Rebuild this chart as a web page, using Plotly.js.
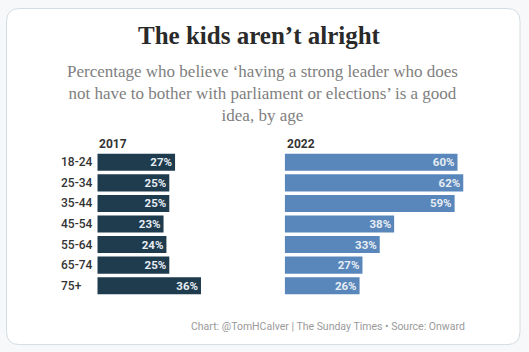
<!DOCTYPE html>
<html><head><meta charset="utf-8">
<script src="https://cdn.plot.ly/plotly-3.0.1.min.js"></script>
<style>html,body{margin:0;padding:0;background:#f7f8f9;}#chart{width:529px;height:352px;}</style>
</head><body><div id="chart"></div>
<script>
const categories = ['18-24','25-34','35-44','45-54','55-64','65-74','75+'];
const values2017 = [27,25,25,23,24,25,36];
const values2022 = [60,62,59,38,33,27,26];
const panelTitles = ['2017','2022'];
const titleText = 'The kids aren\u2019t alright';
const subtitleText = 'Percentage who believe \u2018having a strong leader who does<br>not have to bother with parliament or elections\u2019 is a good<br>idea, by age';
const footerText = 'Chart: @TomHCalver | The Sunday Times \u2022 Source: Onward';

const W = 529, H = 352, T = 152.3, B = 56.4;
const px = x => x / W;
const py = y => (H - B - y) / (H - T - B);
const scale = 2.88;
const leftStart = 97.3, rightStart = 284.7, leftMax = 60, rightMax = 65;

const pctText = arr => arr.map(v => v + '%');
const barFont = {family: 'Roboto, sans-serif', size: 11.5, color: '#e6edf3', weight: 700};

const traces = [
  {type: 'bar', orientation: 'h', y: categories, x: values2017, xaxis: 'x', yaxis: 'y',
   marker: {color: '#1f3b4e'}, text: pctText(values2017), textposition: 'inside', constraintext: 'none',
   insidetextanchor: 'end', textfont: barFont, hoverinfo: 'skip', cliponaxis: false},
  {type: 'bar', orientation: 'h', y: categories, x: values2022, xaxis: 'x2', yaxis: 'y',
   marker: {color: '#5a87bb'}, text: pctText(values2022), textposition: 'inside', constraintext: 'none',
   insidetextanchor: 'end', textfont: barFont, hoverinfo: 'skip', cliponaxis: false}
];

const rr = (x0, y0, x1, y1, r) => {
  const X = v => px(v), Y = v => py(v);
  return `M ${X(x0 + r)} ${Y(y0)} L ${X(x1 - r)} ${Y(y0)} Q ${X(x1)} ${Y(y0)} ${X(x1)} ${Y(y0 + r)} ` +
    `L ${X(x1)} ${Y(y1 - r)} Q ${X(x1)} ${Y(y1)} ${X(x1 - r)} ${Y(y1)} L ${X(x0 + r)} ${Y(y1)} ` +
    `Q ${X(x0)} ${Y(y1)} ${X(x0)} ${Y(y1 - r)} L ${X(x0)} ${Y(y0 + r)} Q ${X(x0)} ${Y(y0)} ${X(x0 + r)} ${Y(y0)} Z`;
};

const annotations = [
  {text: titleText, x: px(259), y: py(36), xref: 'paper', yref: 'paper', xanchor: 'center', yanchor: 'middle',
   showarrow: false, font: {family: '"Liberation Serif", serif', size: 25, color: '#2a2a2a', weight: 700}},
  {text: subtitleText, x: px(262), y: py(94), xref: 'paper', yref: 'paper', xanchor: 'center', yanchor: 'middle',
   showarrow: false, align: 'center', font: {family: '"Liberation Serif", serif', size: 17, color: '#808080'}},
  {text: panelTitles[0], x: px(leftStart), y: py(144), xref: 'paper', yref: 'paper', xanchor: 'left', yanchor: 'middle',
   showarrow: false, font: {family: 'Roboto, sans-serif', size: 12, color: '#333', weight: 700}},
  {text: panelTitles[1], x: px(rightStart), y: py(144), xref: 'paper', yref: 'paper', xanchor: 'left', yanchor: 'middle',
   showarrow: false, font: {family: 'Roboto, sans-serif', size: 12, color: '#333', weight: 700}},
  {text: footerText, x: px(467), y: py(325.5), xref: 'paper', yref: 'paper', xanchor: 'right', yanchor: 'middle',
   showarrow: false, font: {family: 'Roboto, sans-serif', size: 10.5, color: '#9a9a9a'}}
];
categories.forEach(c => annotations.push({
  text: c, x: px(58.5), y: c, xref: 'paper', yref: 'y', xanchor: 'left', yanchor: 'middle',
  showarrow: false, font: {family: 'Roboto, sans-serif', size: 12, color: '#333', weight: 500}
}));

const layout = {
  width: W, height: H, margin: {l: 0, r: 0, t: T, b: B},
  paper_bgcolor: '#f7f8f9', plot_bgcolor: 'rgba(0,0,0,0)',
  showlegend: false, bargap: 0.17,
  xaxis: {domain: [px(leftStart), px(leftStart + leftMax * scale)], range: [0, leftMax],
          visible: false, fixedrange: true},
  xaxis2: {domain: [px(rightStart), px(rightStart + rightMax * scale)], range: [0, rightMax],
           visible: false, fixedrange: true, anchor: 'y'},
  yaxis: {type: 'category', categoryorder: 'array', categoryarray: categories,
          range: [categories.length - 0.5, -0.5], visible: false, fixedrange: true},
  shapes: [{type: 'path', xref: 'paper', yref: 'paper', path: rr(6.5, 9.5, 520, 344, 13),
            fillcolor: '#ffffff', line: {color: '#d3dce2', width: 1}, layer: 'below'}],
  annotations: annotations
};

Plotly.newPlot('chart', traces, layout, {displayModeBar: false, staticPlot: true});
</script></body></html>
